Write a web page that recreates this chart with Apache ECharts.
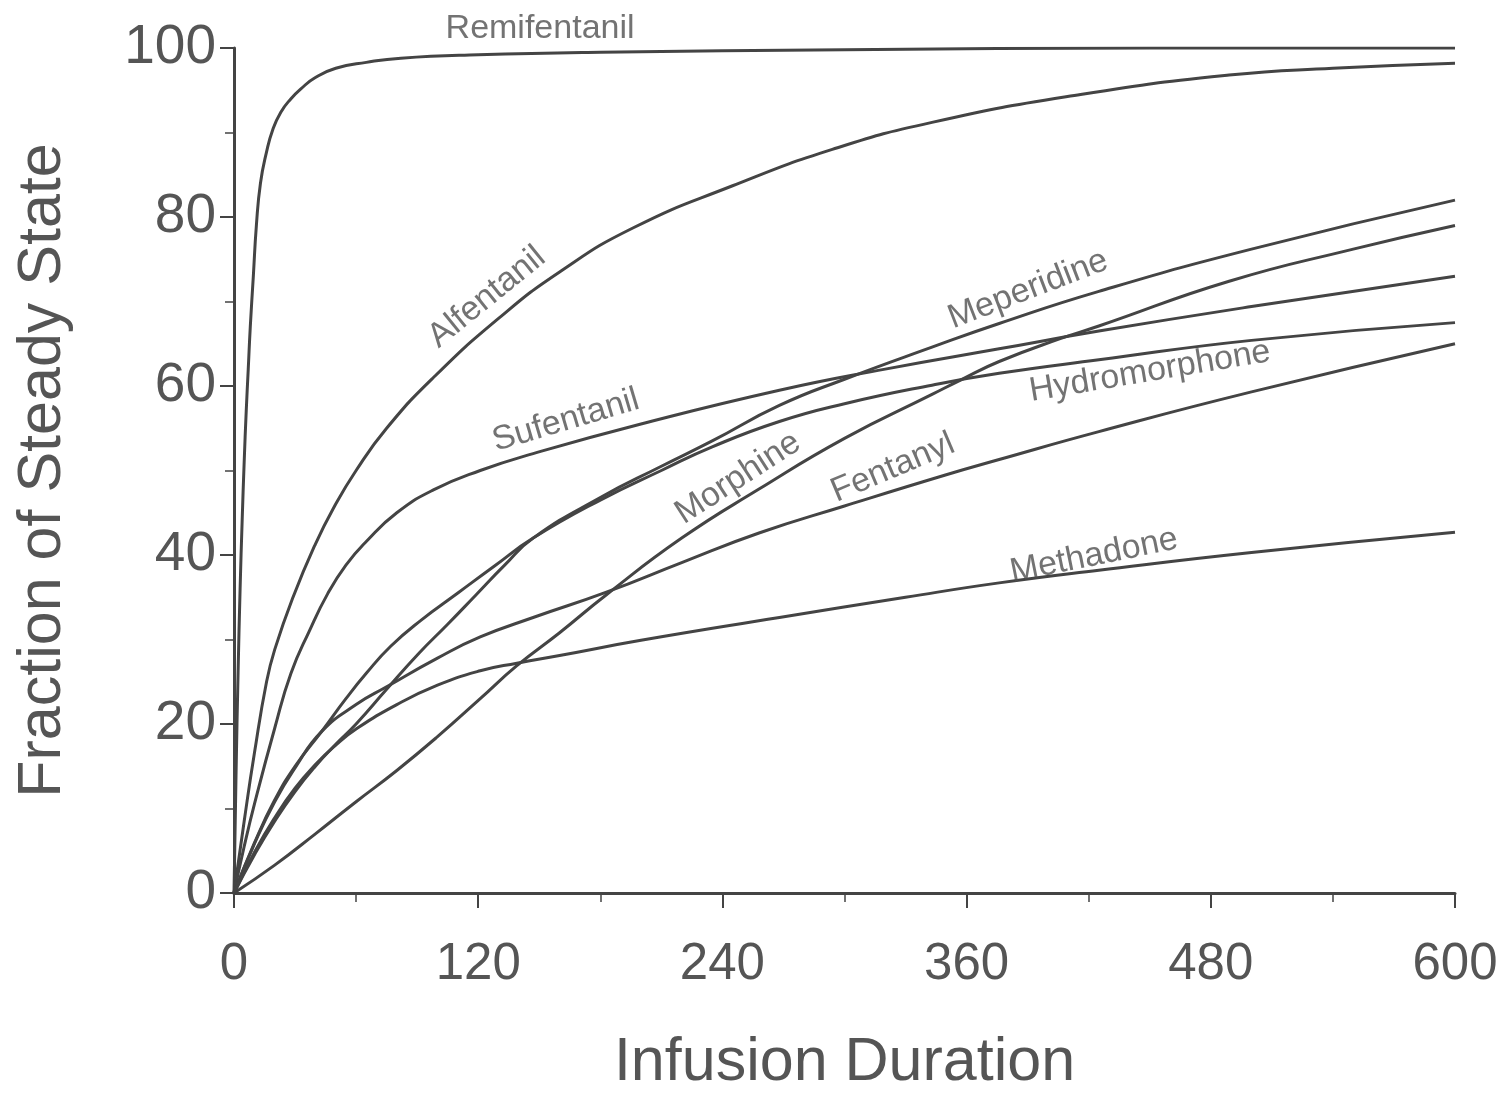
<!DOCTYPE html>
<html>
<head>
<meta charset="utf-8">
<script src="https://cdn.jsdelivr.net/npm/echarts@6/dist/echarts.min.js"></script>
<style>
html,body{margin:0;padding:0;background:#fff;}
#chart{width:1505px;height:1099px;}
</style>
</head>
<body>
<div id="chart"></div>
<script>
// Infusion duration (min) vs fraction of steady state (%)
const remifentanil = [[0,0],[1,14],[2,26],[3,36],[4,44],[5,51],[6,57],[7,62],[8,67],[9.5,73],[11,79],[13,84],[16,87.7],[19,90.3],[23,92.4],[28,94.0],[33,95.2],[40,96.5],[50,97.6],[65,98.3],[82,98.8],[120,99.2],[180,99.5],[300,99.8],[450,100],[600,100]];
const alfentanil = [[0,0],[5,8.5],[10,16.5],[16,25],[20,28.8],[29,35],[40,41.3],[49,45.6],[60,50],[75,55],[98,61],[130,68],[160,73.5],[196,78.7],[245,83.7],[294,88],[343,91.2],[416,94.5],[489,96.8],[540,97.6],[600,98.2]];
const sufentanil = [[0,0],[5,5.5],[10,10.5],[20,19.5],[28,26],[37,31],[46,35.4],[55,38.8],[65,41.6],[80,45],[98,47.7],[121,50],[147,52],[200,55.5],[268,59.5],[320,62],[376,64.4],[425,66.5],[500,69.4],[600,73]];
const meperidine = [[0,0],[10,4.5],[20,8.5],[30,12],[40,15],[50,17.6],[60,20],[75,24.1],[91,28.4],[105,31.8],[119,35.3],[133,38.8],[147,42],[180,46.8],[210,50.5],[235,53.5],[268,57.7],[300,60.8],[343,64.6],[376,67.4],[425,71.2],[500,76.2],[600,82]];
const hydromorphone = [[0,0],[10,5.9],[20,11],[30,15],[43,19.1],[55,23],[65,26],[77,29.2],[92,32.3],[110,35.5],[128,38.7],[147,42],[180,46.5],[210,50],[235,52.8],[268,55.8],[300,57.9],[343,60.1],[376,61.5],[425,63.1],[500,65.4],[600,67.5]];
const morphine = [[0,0],[20,3.3],[40,7],[60,10.8],[80,14.5],[100,18.5],[121,23],[139,26.9],[160,30.8],[183,35.3],[220,42],[258,47.8],[300,53.8],[343,59],[357,60.7],[376,62.9],[406,65.6],[425,67.1],[489,72.4],[550,76.2],[600,79]];
const fentanyl = [[0,0],[10,5.8],[20,10.8],[30,14.8],[43,19.1],[60,22.3],[75,24.4],[100,27.8],[121,30.3],[147,32.6],[183,35.6],[220,39.1],[258,42.6],[300,45.8],[350,49.5],[376,51.3],[425,54.6],[500,59.3],[600,65]];
const methadone = [[0,0],[10,4.8],[20,8.9],[30,12.4],[40,15.2],[50,17.5],[60,19.4],[80,22.3],[100,24.6],[121,26.3],[139,27.2],[160,28.1],[200,29.9],[268,32.6],[330,35],[376,36.7],[425,38.2],[500,40.3],[600,42.7]];

// Curve labels (data coordinates of label centre, rotation in degrees)
const labelNames = ['Remifentanil','Alfentanil','Sufentanil','Meperidine','Hydromorphone','Morphine','Fentanyl','Methadone'];
const labelX = [150.4,124.3,163.1,390.2,450.1,247.7,323.8,422.6];
const labelY = [102.3,70.5,55.9,71.4,61.7,49.1,50.3,39.9];
const labelAngle = [0,39,16.5,21,9.5,33,23,11.5];

const xTicks = [0,120,240,360,480,600];
const yTicks = [0,20,40,60,80,100];

const curves = [
  ['Remifentanil', remifentanil], ['Alfentanil', alfentanil], ['Sufentanil', sufentanil],
  ['Meperidine', meperidine], ['Hydromorphone', hydromorphone], ['Morphine', morphine],
  ['Fentanyl', fentanyl], ['Methadone', methadone]
];

const FONT = '"Liberation Sans", Arial, Helvetica, sans-serif';
const LINE = '#444444';
const TEXT = '#555555';

const chart = echarts.init(document.getElementById('chart'), null, {renderer: 'canvas'});

const series = curves.map(([name, data]) => ({
  name, type: 'line', data, showSymbol: false, symbol: 'none',
  smooth: 0.5,
  lineStyle: {color: LINE, width: 3},
  z: 3
}));

series.push({
  type: 'scatter', clip: false, symbolSize: 1,
  itemStyle: {color: 'rgba(0,0,0,0)'},
  silent: true, z: 5,
  data: labelNames.map((n, i) => ({
    value: [labelX[i], labelY[i]],
    name: n,
    label: {rotate: labelAngle[i]}
  })),
  label: {
    show: true, position: 'inside', formatter: p => p.name,
    fontFamily: FONT, fontSize: 34, color: '#505050', align: 'center', verticalAlign: 'middle'
  }
});

chart.setOption({
  animation: false,
  backgroundColor: '#ffffff',
  grid: {left: 234, right: 50, top: 48, bottom: 196, containLabel: false},
  xAxis: {
    type: 'value', min: xTicks[0], max: xTicks[xTicks.length-1], interval: 120,
    name: 'Infusion Duration', nameLocation: 'middle', nameGap: 140,
    nameTextStyle: {fontFamily: FONT, fontSize: 61, color: TEXT},
    axisLine: {show: true, lineStyle: {color: LINE, width: 3}},
    axisTick: {show: true, length: 15, lineStyle: {color: LINE, width: 2}},
    minorTick: {show: true, splitNumber: 2, length: 9, lineStyle: {color: LINE, width: 1.5}},
    splitLine: {show: false},
    axisLabel: {fontFamily: FONT, fontSize: 51, color: TEXT, margin: 46}
  },
  yAxis: {
    type: 'value', min: yTicks[0], max: yTicks[yTicks.length-1], interval: 20,
    name: 'Fraction of Steady State', nameLocation: 'middle', nameGap: 160, nameRotate: 90,
    nameTextStyle: {fontFamily: FONT, fontSize: 61, color: TEXT},
    axisLine: {show: true, lineStyle: {color: LINE, width: 3}},
    axisTick: {show: true, length: 14, lineStyle: {color: LINE, width: 2}},
    minorTick: {show: true, splitNumber: 2, length: 9, lineStyle: {color: LINE, width: 1.5}},
    splitLine: {show: false},
    axisLabel: {fontFamily: FONT, fontSize: 55, color: TEXT, margin: 18}
  },
  series
});
</script>
</body>
</html>
